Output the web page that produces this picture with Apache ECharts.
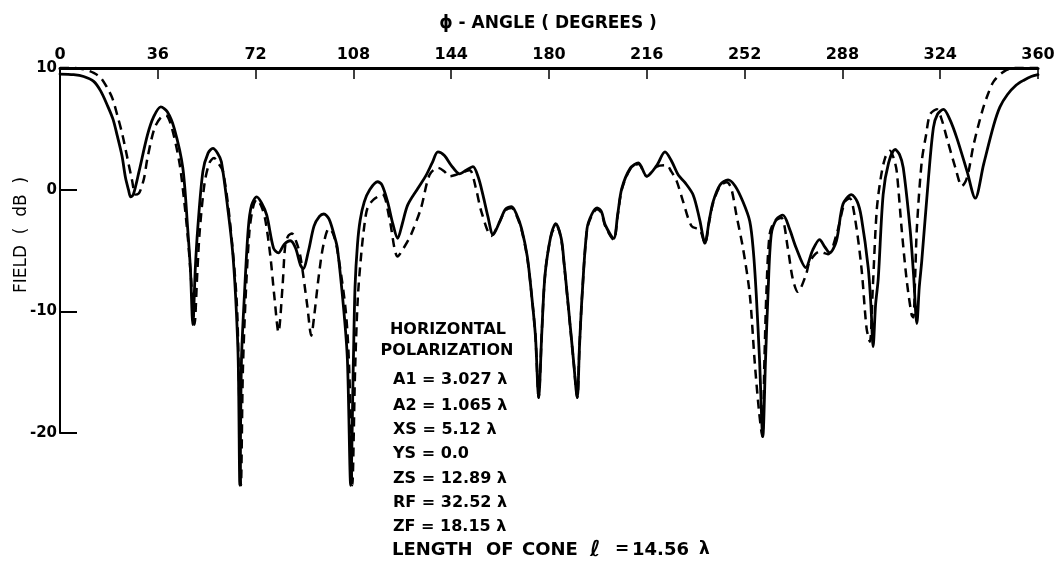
<!DOCTYPE html>
<html>
<head>
<meta charset="utf-8">
<script src="https://cdn.jsdelivr.net/npm/echarts@6/dist/echarts.min.js"></script>
<style>
html,body{margin:0;padding:0;background:#fff;}
#chart{width:1060px;height:565px;}
</style>
</head>
<body>
<div id="chart"></div>
<script>
// ---- data ----
const angleTicks = [0, 36, 72, 108, 144, 180, 216, 252, 288, 324, 360];
const fieldTicks = [-20, -10, 0, 10];

const solidAngle = [0,5,8.7,12.4,15,17.3,19.5,21,22.8,24.1,25.2,26,27,29.1,32.2,34.5,37.1,39.5,42.1,45.2,47,48,48.9,49.8,50.7,52.6,54.5,56.3,58,59.4,61.9,63.5,64.6,65.6,66.2,66.8,67.9,69.3,70.5,72.4,74.2,76.1,78.6,80.4,82.5,84.8,86.7,88.5,89.5,91.5,93.5,95.5,97.1,99,101,102.1,104.5,105.8,107,108,108.6,109.5,110.5,112,114,116.9,118.5,120.6,122.5,124.3,126,128,131.7,134.8,137,139.1,141.5,144,147.1,149.5,152,154,155.7,157.5,159.4,161.9,164,166.2,168,169.9,172,173.6,175,176.2,177.3,178.2,179.1,181,182.5,184.5,185.5,187.9,189,190.4,191.2,192.2,194,195.8,197.7,199.3,200.7,203.8,205.3,206.8,209.9,212.9,216,219.7,222.7,225,227.6,230,233.1,235.5,237.4,239,240.4,243,245.9,248.5,251.4,253.9,255.2,256.3,257.5,258.7,259.7,260.6,261.8,263.8,266.1,268.5,271,274.5,277,279.6,281.5,283.3,285.8,288.2,291.3,293.5,295,297.5,298.5,299.3,300.2,301.2,303,305,307.4,309,310.4,312.9,314.2,315.4,316.3,317.2,319.7,321.5,323,325.2,327.5,330.2,333.9,336.9,340,343.7,346,348.7,352,354.8,357.5,360];
const solidDb = [9.5,9.45,9.3,8.9,8.1,7.0,5.8,4.5,2.8,1.0,0.0,-0.6,-0.4,1.5,4.5,6.0,6.8,6.4,5.0,1.8,-3.2,-6.5,-11.1,-6.5,-3.2,1.5,3.0,3.4,3.0,2.3,-1.8,-5,-8.6,-14,-24.3,-14,-8.6,-3.2,-1.3,-0.6,-1.1,-2.1,-4.8,-5.2,-4.5,-4.2,-4.8,-6.2,-6.5,-5,-3,-2.2,-2.0,-2.4,-3.8,-4.8,-10,-14,-24.3,-14,-8,-4.5,-2.5,-1,0,0.65,0.4,-1,-2.8,-4.0,-2.8,-1.25,0.1,1.2,2.2,3.1,2.8,2.0,1.3,1.6,1.9,1.0,-0.45,-2.2,-3.7,-2.6,-1.6,-1.4,-2.0,-3.2,-5.5,-8.65,-12,-17.1,-12,-8,-5.9,-3.5,-2.8,-4,-5.9,-11.4,-14,-17.1,-13,-8.65,-3.2,-2,-1.5,-1.8,-2.9,-4.0,-2,0.1,1.75,2.2,1.1,2.0,3.1,2.4,1.2,0.6,-0.45,-2.5,-4.4,-2.5,-1,0.4,0.8,0.3,-1,-2.6,-5,-8.65,-14,-20.3,-14,-8.65,-3.7,-2.4,-2.1,-3.2,-4.8,-6.4,-5,-4.1,-4.7,-5.2,-4.2,-1.2,-0.4,-1.0,-2.3,-6.4,-9.5,-12.9,-9.5,-7.3,-0.4,2.2,3.3,2.9,1.8,-3.2,-7,-11,-8,-5.9,1.0,5.1,6.2,6.6,5.8,4.2,1.5,-0.7,2.1,5.3,6.8,7.8,8.6,9.0,9.3,9.45];

const dashAngle = [0,5,8.7,12.4,15,17.3,19.3,21,23,24.8,26.5,27.8,29,29.7,31,32.2,34.7,37,39,41,43.9,45.5,47,48.3,49.5,50.5,51.4,53.2,55,56.7,58.5,60,62.5,65,65.8,66.6,67.3,68.3,69.7,71,72.4,74,75.5,77.4,79,80.4,81.9,82.9,84,85.4,87,88.5,91,92.5,93.5,95.3,97,99,100.5,102.1,105.2,106.5,107.6,108.6,109.6,110.8,112,113.2,115.5,118.7,121.2,124.3,126.5,129.2,132.9,136,139.1,141.5,143.4,145.5,147.7,150.8,153,155.1,158.8,161.9,164,166.2,168,170,172,173.6,175,176.2,177.3,178.2,179.1,181,182.8,184.5,185.5,187.9,189,190.4,191.2,192.2,194,195.8,197.7,199.3,200.7,203.8,205.3,206.8,209.9,212.9,216,219.7,223.3,225,227,229.4,232.5,235.5,237.4,239,240.4,243,245.5,247.1,249,251.4,253.9,255.7,257.3,258.5,259.3,260,261.2,263,265.5,267.9,269.7,271.6,274.6,276,279.6,282.7,285.8,288.9,290.7,292.6,295,296.9,298.1,299.2,300.6,302,303.7,305.5,307,308,309.8,311.7,313.5,314.1,314.8,315.4,317.2,318.8,320.3,322.8,324.5,326.5,329.6,332,333.9,336.3,339.4,341.5,343.7,347.4,351.1,355,360];
const dashDb = [10,10,9.9,9.6,9.2,8.4,7.5,6.2,4.5,2.6,0.8,-0.4,-0.3,0,1,2.6,5,5.9,6.1,5.2,2.3,-0.5,-3.8,-7.5,-11.1,-7,-3.5,0.5,2.2,2.6,2.1,1.5,-2.5,-9,-15,-24.3,-15,-9,-3.5,-1.5,-0.8,-1.3,-2.4,-5.4,-9,-11.7,-8,-4.6,-3.8,-3.6,-4.3,-5.5,-9.5,-12,-10.5,-7,-4.5,-3.2,-3.6,-5,-10,-15,-24.3,-15,-9,-5.5,-3,-1.5,-0.8,-0.4,-2.3,-5.5,-4.8,-3.7,-1.5,1.2,1.8,1.5,1.1,1.2,1.4,1.6,0.2,-1.8,-3.8,-2.6,-1.7,-1.5,-2.1,-3.4,-5.6,-8.65,-12,-17.1,-12,-8,-5.9,-3.6,-3.0,-4.1,-6,-11.5,-14,-17.1,-13,-8.65,-3.3,-2.1,-1.6,-1.9,-3,-4.1,-2.1,0,1.7,2.1,1.1,1.9,2.0,1.5,0.7,-1,-3,-3.3,-4.4,-2.6,-1.1,0.3,0.6,0.1,-2.1,-4.8,-8.6,-14.1,-18.2,-20.3,-14,-8.6,-3.7,-2.6,-2.3,-4.8,-7.3,-8.4,-7.0,-5.9,-5.1,-5.3,-3.7,-1,-0.7,-2.3,-6.4,-11.4,-12.5,-8,-1.8,0.8,2.6,3.2,2.5,1.5,-3.2,-7.5,-10.3,-10.5,-7,-3.2,2.3,4.5,6.2,6.6,5.8,4.2,1.8,0.3,1.0,3.7,6.4,7.8,8.9,9.7,10,10,10];

const titleText = 'ϕ - ANGLE ( DEGREES )';
const yNameText = 'FIELD  (  dB  )';
const legendHeader = ['HORIZONTAL', 'POLARIZATION'];
const paramLines = ['A1 = 3.027 λ', 'A2 = 1.065 λ', 'XS = 5.12 λ', 'YS = 0.0', 'ZS = 12.89 λ', 'RF = 32.52 λ', 'ZF = 18.15 λ'];
const coneParts = ['LENGTH', 'OF', 'CONE', 'ℓ', '=', '14.56', 'λ'];

// ---- chart ----
const FONT = '"DejaVu Sans", sans-serif';
const solidData = solidAngle.map((a, i) => [a, solidDb[i]]);
const dashData = dashAngle.map((a, i) => [a, dashDb[i]]);

function txt(x, y, text, opts) {
  opts = opts || {};
  return {
    type: 'text', x: x, y: y, rotation: opts.rotation || 0, z: 100,
    style: {
      text: text, fill: '#000',
      font: (opts.style || 'normal') + ' ' + (opts.weight || 'bold') + ' ' + (opts.size || 16) + 'px ' + FONT,
      textAlign: opts.align || 'left', textVerticalAlign: 'middle'
    }
  };
}

const graphics = [];
graphics.push(txt(548, 24, titleText, {size: 17, align: 'center'}));
graphics.push(txt(22, 235, yNameText, {size: 17, weight: 'normal', align: 'center', rotation: Math.PI / 2}));
graphics.push(txt(448, 330, legendHeader[0], {align: 'center'}));
graphics.push(txt(447, 351, legendHeader[1], {align: 'center'}));
const paramY = [380, 406, 430, 454, 479, 503, 527];
paramLines.forEach((l, i) => graphics.push(txt(393, paramY[i], l)));
const coneX = [392, 486, 522, 590, 615, 632, 699];
const coneSize = [18, 18, 18, 22, 17, 18, 17];
coneParts.forEach((p, i) => graphics.push(txt(coneX[i], 550, p, {
  size: coneSize[i], style: i === 3 ? 'italic' : 'normal'
})));

const chart = echarts.init(document.getElementById('chart'), null, {renderer: 'canvas'});
chart.setOption({
  animation: false,
  backgroundColor: '#fff',
  grid: {left: 60, right: 22, top: 68, bottom: 132, containLabel: false},
  xAxis: {
    type: 'value', position: 'top', min: angleTicks[0], max: angleTicks[angleTicks.length - 1],
    interval: angleTicks[1] - angleTicks[0],
    axisLine: {show: true, onZero: false, lineStyle: {color: '#000', width: 3}},
    axisTick: {show: true, inside: true, length: 11, lineStyle: {color: '#000', width: 1.5}},
    axisLabel: {color: '#000', fontSize: 16, fontWeight: 'bold', fontFamily: FONT, margin: 5},
    splitLine: {show: false}
  },
  yAxis: {
    type: 'value', min: fieldTicks[0], max: fieldTicks[fieldTicks.length - 1],
    interval: fieldTicks[1] - fieldTicks[0],
    axisLine: {show: true, onZero: false, lineStyle: {color: '#000', width: 2}},
    axisTick: {show: true, inside: true, length: 17, lineStyle: {color: '#000', width: 2}},
    axisLabel: {color: '#000', fontSize: 15, fontWeight: 'bold', fontFamily: FONT, margin: 3},
    splitLine: {show: false}
  },
  graphic: graphics,
  series: [
    {
      type: 'line', name: 'solid', data: solidData, clip: false, showSymbol: false,
      smooth: 0.3,
      lineStyle: {color: '#000', width: 2.8, type: 'solid', join: 'round', cap: 'round'}
    },
    {
      type: 'line', name: 'dashed', data: dashData, clip: false, showSymbol: false,
      smooth: 0.3,
      lineStyle: {color: '#000', width: 2.5, type: [9, 6], join: 'round'}
    }
  ]
});
</script>
</body>
</html>
